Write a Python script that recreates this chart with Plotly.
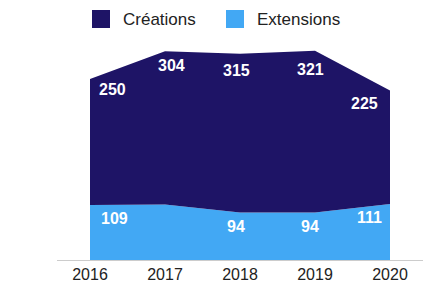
import plotly.graph_objects as go

years = [2016, 2017, 2018, 2019, 2020]
creations = [250, 304, 315, 321, 225]
extensions = [109, 110, 94, 94, 111]
ext_labels = ["109", "", "94", "94", "111"]
cre_labels = ["250", "304", "315", "321", "225"]

# label offsets (pixels)
cre_dx = [22, 6, -4, -5, -26]
cre_dy = [-11, -14, -17, -19, -13]
ext_dx = [24, 0, -4, -5, -21]
ext_dy = [-13, -13, -14, -14, -13]

C_CRE = "#1e1466"
C_EXT = "#42a8f4"

fig = go.Figure()
fig.add_trace(go.Scatter(x=years, y=extensions, stackgroup="one", mode="none",
                         fillcolor=C_EXT, name="Extensions", showlegend=False))
fig.add_trace(go.Scatter(x=years, y=creations, stackgroup="one", mode="none",
                         fillcolor=C_CRE, name="Créations", showlegend=False))

ann = []
for i, y in enumerate(years):
    if ext_labels[i]:
        ann.append(dict(x=y, y=extensions[i], text=ext_labels[i], showarrow=False,
                        xshift=ext_dx[i], yshift=ext_dy[i],
                        font=dict(family="Liberation Sans, Arial", size=16, color="white", weight="bold")))
    ann.append(dict(x=y, y=extensions[i] + creations[i], text=cre_labels[i], showarrow=False,
                    xshift=cre_dx[i], yshift=cre_dy[i],
                    font=dict(family="Liberation Sans, Arial", size=16, color="white", weight="bold")))

# legend
leg = [("Créations", C_CRE, 92), ("Extensions", C_EXT, 226)]
shapes = []
for name, col, px in leg:
    shapes.append(dict(type="rect", xref="paper", yref="paper",
                       x0=(px - 57) / 366, x1=(px + 18 - 57) / 366,
                       y0=(260 - 28) / 227, y1=(260 - 10) / 227,
                       fillcolor=col, line=dict(width=0)))
    ann.append(dict(xref="paper", yref="paper", x=(px + 29 - 57) / 366, y=(260 - 19.5) / 227,
                    xanchor="left", yanchor="middle", text=name, showarrow=False,
                    font=dict(family="Liberation Sans, Arial", size=17, color="#222222")))

fig.update_layout(
    width=433, height=285,
    margin=dict(l=57, r=10, t=33, b=25),
    plot_bgcolor="white", paper_bgcolor="white",
    showlegend=False,
    annotations=ann, shapes=shapes,
    xaxis=dict(range=[2015.56, 2020.44], tickvals=years, ticktext=[str(y) for y in years],
               showgrid=False, zeroline=False, showline=True, linecolor="#cccccc", linewidth=1,
               ticks="", automargin=False,
               tickfont=dict(family="Liberation Sans, Arial", size=16, color="#222222")),
    yaxis=dict(range=[0, 450], visible=False, showgrid=False, automargin=False),
)
fig.write_html("out.html", config={"displayModeBar": False},
               post_script="document.body.style.margin='0px';")
